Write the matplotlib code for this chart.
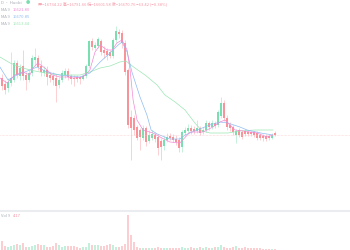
import matplotlib
matplotlib.use("Agg")
import matplotlib.pyplot as plt

plt.rcParams['font.family'] = ['Noto Sans CJK SC', 'DejaVu Sans']

# candle data (price), one entry per bar
opens = [16784, 16772, 16764, 16774, 16780, 16814, 16788, 16808, 16790, 16780,
         16794, 16820, 16824, 16808, 16794, 16800, 16790, 16788, 16784, 16770,
         16780, 16790, 16798, 16788, 16784, 16786, 16786, 16782, 16788, 16808,
         16858, 16844, 16848, 16858, 16840, 16838, 16836, 16828, 16860, 16876,
         16874, 16854, 16800, 16706, 16704, 16686, 16680, 16664, 16684, 16658,
         16664, 16670, 16666, 16658, 16648, 16660, 16668, 16666, 16662, 16660,
         16646, 16674, 16678, 16684, 16682, 16678, 16684, 16676, 16680, 16694,
         16686, 16694, 16690, 16708, 16734, 16704, 16690, 16686, 16670, 16680,
         16676, 16678, 16676, 16676, 16676, 16674, 16670, 16668, 16668, 16668,
         16664, 16674]
closes = [16768, 16760, 16776, 16784, 16814, 16790, 16804, 16788, 16780, 16794,
          16824, 16826, 16806, 16796, 16800, 16786, 16784, 16780, 16768, 16780,
          16794, 16798, 16786, 16782, 16782, 16782, 16782, 16788, 16808, 16858,
          16846, 16850, 16862, 16836, 16834, 16830, 16828, 16860, 16878, 16872,
          16854, 16796, 16690, 16684, 16680, 16664, 16666, 16684, 16656, 16670,
          16672, 16662, 16644, 16646, 16660, 16666, 16664, 16660, 16656, 16644,
          16676, 16680, 16684, 16678, 16678, 16684, 16674, 16680, 16694, 16686,
          16694, 16688, 16716, 16734, 16704, 16686, 16684, 16676, 16678, 16670,
          16666, 16672, 16672, 16672, 16670, 16664, 16664, 16664, 16662, 16664,
          16670, 16670]
highs = [16792, 16780, 16784, 16836, 16820, 16820, 16812, 16840, 16796, 16800,
         16830, 16844, 16830, 16820, 16808, 16808, 16796, 16796, 16792, 16786,
         16800, 16804, 16804, 16792, 16790, 16790, 16788, 16792, 16812, 16860,
         16864, 16856, 16866, 16862, 16848, 16844, 16840, 16864, 16888, 16882,
         16880, 16860, 16804, 16720, 16710, 16690, 16684, 16690, 16688, 16680,
         16680, 16676, 16672, 16664, 16668, 16674, 16674, 16672, 16670, 16666,
         16680, 16686, 16692, 16690, 16688, 16700, 16688, 16686, 16700, 16698,
         16700, 16698, 16720, 16746, 16740, 16710, 16696, 16690, 16682, 16684,
         16680, 16682, 16680, 16678, 16678, 16678, 16674, 16672, 16672, 16672,
         16674, 16678]
lows = [16760, 16752, 16756, 16768, 16776, 16784, 16780, 16780, 16760, 16776,
        16788, 16810, 16800, 16788, 16788, 16770, 16776, 16770, 16736, 16764,
        16776, 16784, 16780, 16772, 16768, 16776, 16772, 16780, 16784, 16804,
        16840, 16840, 16844, 16830, 16824, 16820, 16824, 16824, 16856, 16864,
        16844, 16790, 16684, 16620, 16670, 16660, 16640, 16660, 16648, 16654,
        16660, 16656, 16630, 16620, 16640, 16656, 16660, 16656, 16650, 16636,
        16636, 16668, 16674, 16672, 16672, 16674, 16670, 16672, 16676, 16680,
        16682, 16684, 16686, 16704, 16698, 16680, 16678, 16670, 16654, 16666,
        16662, 16668, 16668, 16668, 16666, 16660, 16660, 16658, 16658, 16660,
        16662, 16668]
volumes = [9, 4, 3, 4, 5, 6, 5, 7, 3, 3, 4, 5, 6, 5, 5, 3, 3, 4, 7, 5,
           3, 4, 4, 4, 4, 3, 2, 3, 3, 7, 5, 5, 5, 4, 4, 5, 6, 5, 3, 3,
           4, 6, 34, 15, 8, 3, 2, 2, 2, 2, 2, 2, 3, 2, 2, 2, 2, 2, 2, 2,
           3, 2, 2, 3, 2, 2, 3, 2, 3, 2, 2, 3, 3, 5, 3, 2, 2, 3, 4, 2,
           2, 3, 2, 2, 2, 2, 2, 1, 1, 1, 1, 1]

# moving averages (bar index, price)
ma5_x = [-0.7, 1.7, 4.3, 7, 9.3, 10.3, 12, 14.3, 16.7, 19.3, 21.7, 23.7, 27, 29.3,
         31, 32.7, 35, 36.7, 38.3, 40, 41.7, 42.7, 43.7, 45, 47, 50.3, 53.3, 56,
         59.3, 62.7, 67, 70.3, 72.7, 74.3, 76, 77.7, 80.3, 85, 88.3, 90.3]
ma5_y = [16784, 16774, 16790, 16796, 16790, 16804, 16814, 16804, 16790, 16786,
         16786, 16784, 16786, 16800, 16836, 16850, 16840, 16840, 16854, 16860,
         16840, 16800, 16740, 16700, 16680, 16674, 16664, 16656, 16654, 16676,
         16676, 16686, 16696, 16700, 16690, 16680, 16678, 16674, 16666, 16670]
ma10_x = [-0.7, 2, 5, 9.3, 11.7, 15, 19.3, 26, 29.3, 32.7, 36, 38.7, 40, 41.7,
          43.3, 46, 48.3, 49.7, 51.7, 56, 59.3, 61, 65, 69.3, 72.7, 75.3, 79.3,
          81.7, 86.3, 90.3]
ma10_y = [16806, 16780, 16790, 16800, 16806, 16796, 16790, 16786, 16794, 16816,
          16834, 16850, 16856, 16836, 16796, 16746, 16710, 16680, 16672, 16662,
          16662, 16670, 16680, 16690, 16696, 16694, 16686, 16680, 16674, 16670]
ma30_x = [-0.7, 2.7, 6, 9.3, 14.3, 19.3, 26, 29.3, 32.7, 36, 39.3, 41.3, 44.3,
          47.7, 51.7, 54.3, 57.7, 61, 64.3, 66.7, 69.3, 75.3, 79.3, 84.3, 90.3]
ma30_y = [16826, 16814, 16806, 16800, 16794, 16790, 16790, 16796, 16804, 16808,
          16816, 16818, 16804, 16790, 16770, 16750, 16736, 16720, 16694, 16678,
          16674, 16674, 16678, 16680, 16680]

last_price = 16670
header = "开=16734.22 高=16791.66 低=16601.58 收=16670.76 −63.42 (−0.38%)"
ma_labels = ["MA 9", "MA 9", "MA 9"]
ma_values = ["16621.80", "16670.85", "16613.44"]
vol_label = "4.17"

up_col = '#7adfb0'
down_col = '#f8939a'
ma_cols = ['#f28ad6', '#8fbcf2', '#9de6b4']

fig = plt.figure(figsize=(3.5, 2.5), dpi=100)
fig.patch.set_facecolor('white')
ax = fig.add_axes([0, 39 / 250, 1, 211 / 250])
axv = fig.add_axes([0, 0, 1, 38 / 250])

n = len(opens)
idx = list(range(n))
for i in idx:
    col = up_col if closes[i] >= opens[i] else down_col
    ax.vlines(i, lows[i], highs[i], color=col, lw=0.5, alpha=0.6)
    body = closes[i] - opens[i]
    if body == 0:
        body = 1
    ax.bar(i, body, bottom=opens[i], width=0.7, color=col, linewidth=0)
    axv.bar(i, volumes[i], width=0.75, color=col, alpha=0.45, linewidth=0)

ax.plot(ma30_x, ma30_y, color=ma_cols[2], lw=0.5)
ax.plot(ma10_x, ma10_y, color=ma_cols[1], lw=0.5)
ax.plot(ma5_x, ma5_y, color=ma_cols[0], lw=0.5)
ax.axhline(last_price, color='#f9b8b8', lw=0.4, ls=(0, (1, 1.5)))

ax.set_xlim(-0.67, 116)
ax.set_ylim(16518, 16940)
axv.set_xlim(-0.67, 116)
axv.set_ylim(0, 37)
for a in (ax, axv):
    a.axis('off')

# separator between panes
fig.add_artist(plt.Line2D([0, 1], [39.5 / 250, 39.5 / 250], color='#eaecf0', lw=1.5,
                          transform=fig.transFigure))

fs = 3.0
grey = '#a8adb5'
fig.text(1 / 350, 1 - 3.5 / 250, "D · Huobi", fontsize=fs, color=grey, va='center')
fig.text(26 / 350, 1 - 3.5 / 250, "●", fontsize=fs, color=up_col, va='center')
fig.text(38 / 350, 1 - 3.5 / 250, header, fontsize=fs, color='#f59aa8', va='center')
for k, (lab, val) in enumerate(zip(ma_labels, ma_values)):
    yy = 1 - (10 + 7 * k) / 250
    fig.text(1 / 350, yy, lab, fontsize=fs, color=grey, va='center')
    fig.text(12.5 / 350, yy, val, fontsize=fs, color=ma_cols[k], va='center')
fig.text(1 / 350, 1 - 216 / 250, "Vol 9", fontsize=fs, color=grey, va='center')
fig.text(12.5 / 350, 1 - 216 / 250, vol_label, fontsize=fs, color='#f59aa8', va='center')

fig.savefig("out.png", dpi=100, facecolor='white')
